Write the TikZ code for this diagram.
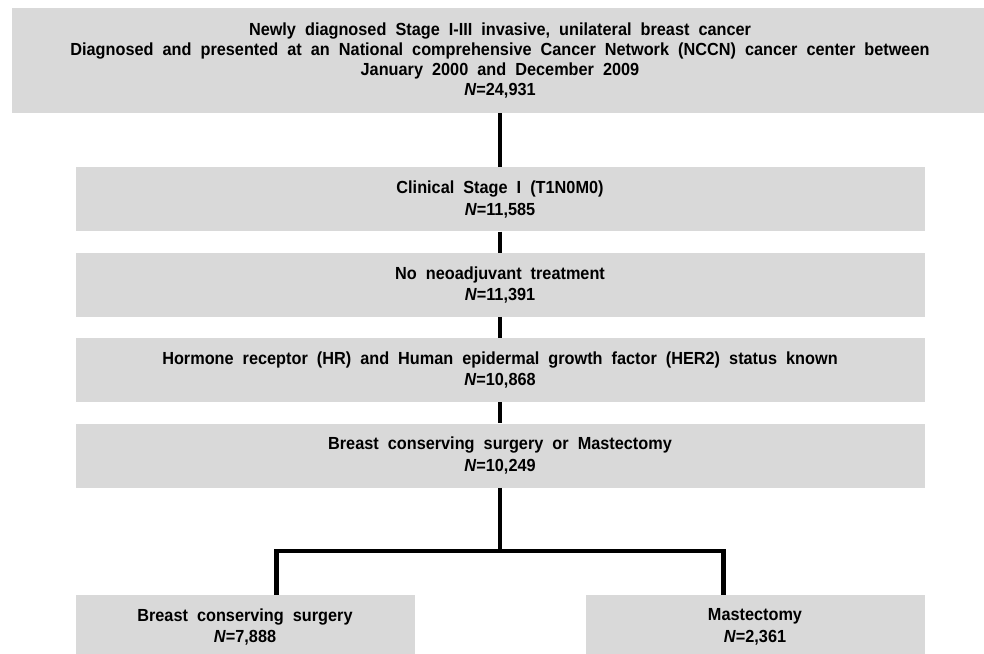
\documentclass[tikz,border=0pt]{standalone}
\usepackage{fontspec}
\setmainfont[FakeStretch=0.93,WordSpace=2]{Liberation Sans}
\usetikzlibrary{positioning}
\definecolor{boxgray}{RGB}{217,217,217}

\begin{document}
\begin{tikzpicture}[x=1pt,y=1pt,
box/.style={fill=boxgray, minimum width=849pt, minimum height=64pt, inner sep=0pt, align=center, font=\fontsize{17.5}{21.5}\selectfont\bfseries},
leaf/.style={box, minimum width=339pt},
link/.style={line width=4.5pt},
node distance=21pt
]
\path[use as bounding box, clip] (0,0) rectangle (984,653);
\node[box, minimum width=976pt, minimum height=105pt, font=\fontsize{17.5}{19.8}\selectfont\bfseries] (all) at (500,592.5) {Newly diagnosed Stage I-III invasive, unilateral breast cancer\\Diagnosed and presented at an National comprehensive Cancer Network (NCCN) cancer center between\\January 2000 and December 2009\\\textit{N}=24,931};
\node[box, below=54pt of all] (stage) {Clinical Stage I (T1N0M0)\\\textit{N}=11,585};
\node[box, below=of stage] (noneo) {No neoadjuvant treatment\\\textit{N}=11,391};
\node[box, below=of noneo] (hrher) {Hormone receptor (HR) and Human epidermal growth factor (HER2) status known\\\textit{N}=10,868};
\node[box, below=of hrher] (surg) {Breast conserving surgery or Mastectomy\\\textit{N}=10,249};
\node[leaf, below=107pt of surg.south west, anchor=north west] (bcs) {Breast conserving surgery\\\textit{N}=7,888};
\node[leaf, below=107pt of surg.south east, anchor=north east] (mast) {Mastectomy\\\textit{N}=2,361};

\draw[link] (all) -- (stage);
\draw[link] (stage) -- (noneo);
\draw[link] (noneo) -- (hrher);
\draw[link] (hrher) -- (surg);
\draw[link] (surg.south) -- ++(0,-63) coordinate (split);
\draw[link] ([xshift=31.5pt]bcs.north) |- (split) -| ([xshift=-31.5pt]mast.north);
\end{tikzpicture}
\end{document}
